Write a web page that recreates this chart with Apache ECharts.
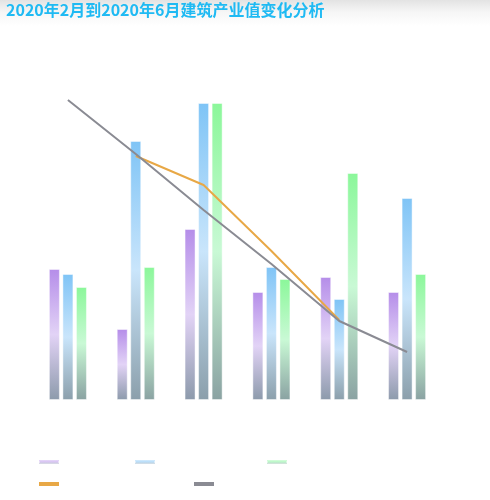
<!DOCTYPE html>
<html>
<head>
<meta charset="utf-8">
<script src="https://cdn.jsdelivr.net/npm/echarts@6/dist/echarts.min.js"></script>
<style>
html,body{margin:0;padding:0;width:490px;height:500px;overflow:hidden;background:#fff;}
#wrap{width:490px;height:500px;background:linear-gradient(to bottom,#e3e3e3 0px,#f6f6f6 12px,#ffffff 26px);}
#main{width:490px;height:500px;}
</style>
</head>
<body>
<div id="wrap"><div id="main"></div></div>
<script>
var categories = ['1月', '2月', '3月', '4月', '5月', '6月'];
var seriesNames = ['建筑业产值', '建筑工程产值增量', '安装工程产值', '建筑业产值同比增长率', '建筑工程产值增长率'];
var barA = [131, 71, 171, 108, 123, 108];
var barB = [126, 259, 297, 133, 101, 202];
var barC = [113, 133, 297, 121, 227, 126];
var lineOrange = ['-', 244, 215, 149, 80, '-'];
var lineGrey = [300, 246, 190, 136, 79, 48];

function grad(top, mid, bottom) {
  return new echarts.graphic.LinearGradient(0, 0, 0, 1, [
    {offset: 0, color: top},
    {offset: 0.5, color: mid},
    {offset: 1, color: bottom}
  ]);
}

var chart = echarts.init(document.getElementById('main'));
function barSeries(name, data, colors) {
  return {
    name: name,
    type: 'bar',
    data: data,
    barWidth: 11,
    barGap: '23%',
    itemStyle: {
      color: grad(colors[0], colors[1], colors[2]),
      borderColor: 'rgba(255,255,255,0.45)',
      borderWidth: 1
    }
  };
}
chart.setOption({
  backgroundColor: 'transparent',
  animation: false,
  title: {
    text: '2020年2月到2020年6月建筑产业值变化分析',
    left: 6,
    top: 2,
    padding: 0,
    textStyle: {color: '#1fbaf3', fontSize: 16, fontWeight: 'bold', fontFamily: 'Noto Sans CJK SC, sans-serif'}
  },
  legend: {
    data: seriesNames,
    left: 33,
    top: 451,
    itemWidth: 20,
    itemHeight: 4,
    itemGap: 10,
    icon: 'rect',
    textStyle: {color: '#ffffff', fontSize: 12}
  },
  grid: {left: 34, right: 49, top: 100, bottom: 100},
  xAxis: {
    type: 'category',
    data: categories,
    show: false
  },
  yAxis: {
    type: 'value',
    min: 0,
    max: 300,
    show: false
  },
  series: [
    barSeries(seriesNames[0], barA, ['#b58de9', '#e2d3f6', '#8c9aab']),
    barSeries(seriesNames[1], barB, ['#7fc4f6', '#c9e5fb', '#8b9fab']),
    barSeries(seriesNames[2], barC, ['#8bf79a', '#c9f9d5', '#8aa2a2']),
    {
      name: seriesNames[3],
      type: 'line',
      data: lineOrange,
      symbol: 'none',
      color: '#e8a846',
      lineStyle: {color: '#e8a846', width: 2}
    },
    {
      name: seriesNames[4],
      type: 'line',
      data: lineGrey,
      symbol: 'none',
      color: '#8a8b93',
      lineStyle: {color: '#8a8b93', width: 2}
    }
  ]
});
</script>
</body>
</html>
